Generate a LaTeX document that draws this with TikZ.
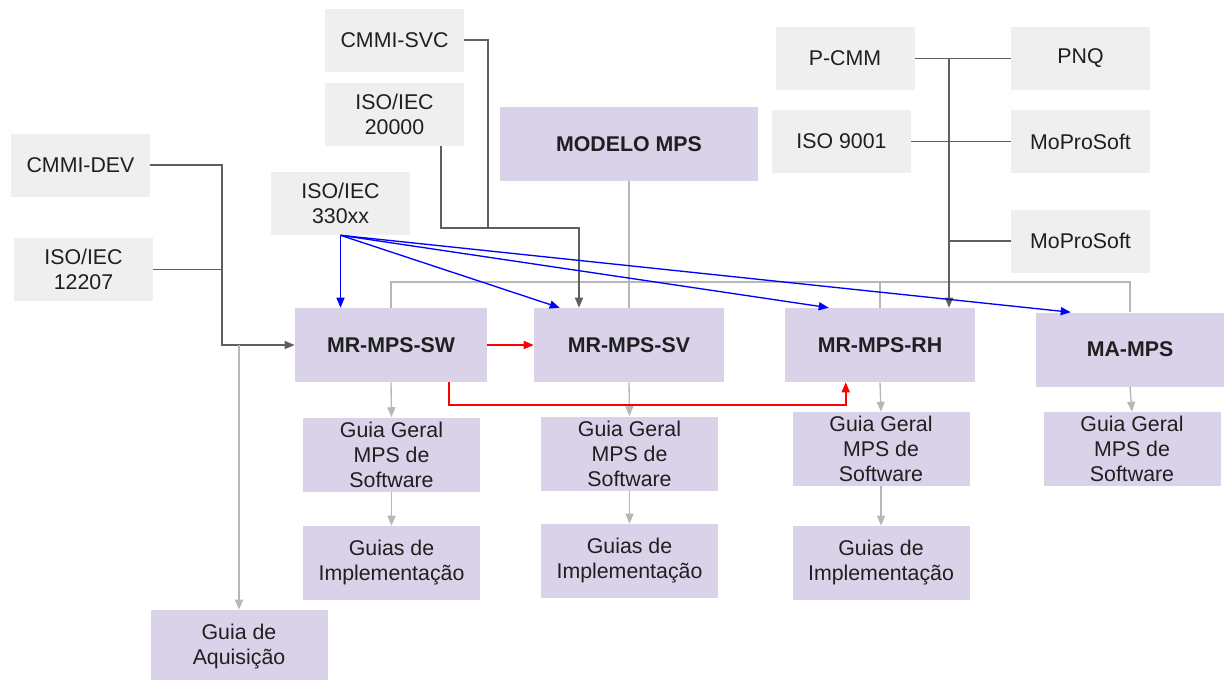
\documentclass[tikz,border=0pt]{standalone}
\usepackage{fontspec}
\setmainfont{Liberation Sans}
\usetikzlibrary{arrows.meta,calc}

\definecolor{boxgray}{HTML}{EFEFEF}
\definecolor{boxlilac}{HTML}{D9D2E9}
\definecolor{linedark}{HTML}{5F5F5F}
\definecolor{linelight}{HTML}{B7B7B7}

\begin{document}
\begin{tikzpicture}[x=0.75pt, y=-0.75pt,
    every node/.style={inner sep=0pt, align=center, text=black!88,
      font=\fontsize{16}{18.75}\selectfont},
    std/.style={fill=boxgray, minimum width=104.25pt, minimum height=47.25pt},
    mr/.style={fill=boxlilac, minimum width=142.5pt, minimum height=55.5pt,
      font=\fontsize{16}{18.75}\selectfont\bfseries},
    guia/.style={fill=boxlilac, minimum width=132.75pt, minimum height=55.5pt},
    arr/.style={-{Triangle[length=7.5pt,width=6pt]}},
    dk/.style={color=linedark, line width=1pt},
    lt/.style={color=linelight, line width=1pt},
    bl/.style={color=blue, line width=1pt},
    rd/.style={color=red, line width=1.2pt}]
    \useasboundingbox (0,0) rectangle (1224,679);

    % normas de referencia
    \node[std] (cmmidev) at (80.5, 165) {CMMI-DEV};
    \node[std] (iso12207) at (83.5, 269.5) {ISO/IEC\\12207};
    \node[std] (iso330) at (340.5, 203.5) {ISO/IEC\\330xx};
    \node[std] (cmmisvc) at (394.5, 40) {CMMI-SVC};
    \node[std] (iso20000) at (394.5, 114) {ISO/IEC\\20000};
    \node[std] (pcmm) at (845, 58.5) {P-CMM};
    \node[std] (iso9001) at (841.5, 141.5) {ISO 9001};
    \node[std] (pnq) at (1080.5, 58.5) {PNQ};
    \node[std] (mopro1) at (1080.5, 141.5) {MoProSoft};
    \node[std] (mopro2) at (1080.5, 241) {MoProSoft};

    % modelo e componentes
    \node[mr, minimum width=193.5pt] (modelo) at (629, 144) {MODELO MPS};
    \node[mr, minimum width=144pt] (mrsw) at (391, 345) {MR-MPS-SW};
    \node[mr] (mrsv) at (629, 345) {MR-MPS-SV};
    \node[mr] (mrrh) at (880, 345) {MR-MPS-RH};
    \node[mr, minimum width=141pt] (mamps) at (1130, 349.5) {MA-MPS};

    % guias
    \node[guia] (gg1) at (391.5, 454.5) {Guia Geral\\MPS de\\Software};
    \node[guia] (gg2) at (629.5, 453.5) {Guia Geral\\MPS de\\Software};
    \node[guia] (gg3) at (881, 449) {Guia Geral\\MPS de\\Software};
    \node[guia] (gg4) at (1132, 449) {Guia Geral\\MPS de\\Software};
    \node[guia] (gi1) at (391.5, 563) {Guias de\\Implementação};
    \node[guia] (gi2) at (629.5, 561) {Guias de\\Implementação};
    \node[guia] (gi3) at (881, 563) {Guias de\\Implementação};
    \node[guia] (aquis) at (239, 647) {Guia de\\Aquisição};

    % estrutura do modelo
    \coordinate (bus) at (0, 282);
    \draw[lt] (modelo.south) -- (modelo.south |- mrsv.north);
    \draw[lt] (mrsw.north) -- (mrsw.north |- bus) -- (mamps.north |- bus) -- (mamps.north);
    \draw[lt] (mrrh.north |- bus) -- (mrrh.north);
    \draw[lt, arr] (mrsw.south) -- (gg1.north);
    \draw[lt, arr] (mrsv.south) -- (gg2.north);
    \draw[lt, arr] (mrrh.south) -- (gg3.north);
    \draw[lt, arr] (mamps.south) -- (gg4.north);
    \draw[lt, arr] (gg1.south) -- (gi1.north);
    \draw[lt, arr] (gg2.south) -- (gi2.north);
    \draw[lt, arr] (gg3.south) -- (gi3.north);

    % MR-MPS-SW
    \coordinate (jdev) at (222, 345);
    \coordinate (jaq) at (239, 345);
    \draw[dk, arr] (cmmidev.east) -| (jdev) -- (mrsw.west);
    \draw[dk] (iso12207.east) -- (iso12207.east -| jdev);
    \draw[lt, arr] (jaq) -- (aquis.north);

    % MR-MPS-SV
    \coordinate (jsvc) at (488, 228);
    \coordinate (jsv) at (579, 228);
    \coordinate (s20000) at ($(iso20000.south)+(46.5,0)$);
    \draw[dk] (cmmisvc.east) -| (jsvc);
    \draw[dk, arr] (s20000) |- (jsv) -- (jsv |- mrsv.north);

    % MR-MPS-RH
    \coordinate (jrh) at (949, 58.5);
    \draw[dk] (pcmm.east) -- (pnq.west);
    \draw[dk] (iso9001.east) -- (mopro1.west);
    \draw[dk] (mopro2.west) -- (mopro2.west -| jrh);
    \draw[dk, arr] (jrh) -- (jrh |- mrrh.north);

    % ISO/IEC 330xx
    \draw[bl, arr] (iso330.south) -- (iso330.south |- mrsw.north);
    \draw[bl, arr] (iso330.south) -- ($(mrsv.north west)+(26,0)$);
    \draw[bl, arr] (iso330.south) -- ($(mrrh.north west)+(44,0)$);
    \draw[bl, arr] (iso330.south) -- ($(mamps.north west)+(35,0)$);

    % relacoes entre modelos
    \coordinate (rda) at ($(mrsw.south east)+(-38,0)$);
    \coordinate (rdb) at ($(mrrh.south west)+(61,0)$);
    \coordinate (rdc) at ($(rdb)+(0,22.5)$);
    \draw[rd, arr] (mrsw.east) -- (mrsv.west);
    \draw[rd, arr] (rda) -- (rda |- rdc) -- (rdc) -- (rdb);
\end{tikzpicture}
\end{document}
